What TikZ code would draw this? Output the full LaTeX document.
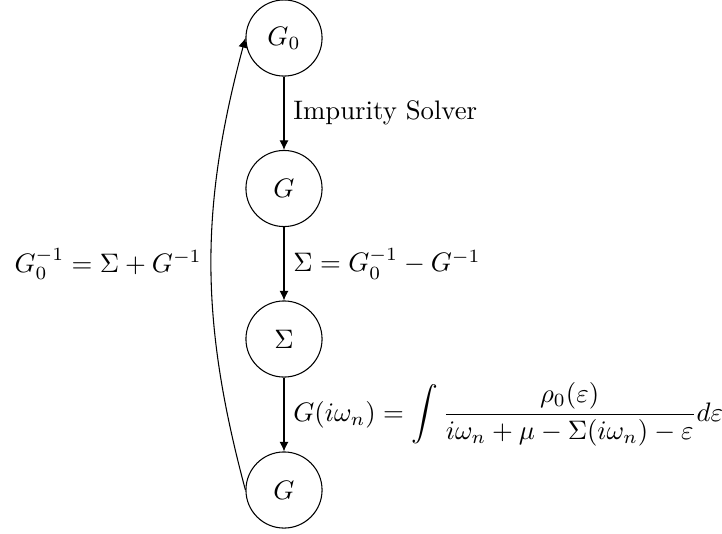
\documentclass[tikz,border=0pt]{standalone}
\usetikzlibrary{arrows.meta}
\begin{document}
\begin{tikzpicture}[x=0.3738pt,y=-0.3738pt,
  state/.style={draw,circle,minimum size=1cm,inner sep=0pt},
  flow/.style={-{Latex[length=3.6pt,width=3.4pt]}}]
\useasboundingbox (0,0) rectangle (722,533);
\node[state] (g0) at (284,38) {$G_0$};
\node[state] (g1) at (284,188.5) {$G$};
\node[state] (s) at (284,339) {$\Sigma$};
\node[state] (g2) at (284,490) {$G$};
\draw[flow] (g0) -- node[right] {Impurity Solver} (g1);
\draw[flow] (g1) -- node[right] {$\Sigma = G_0^{-1} - G^{-1}$} (s);
\draw[flow] (s) -- node[right] {$G(i\omega_n) = \displaystyle\int \frac{\rho_0(\varepsilon)}{i\omega_n+\mu-\Sigma(i\omega_n)-\varepsilon} d\varepsilon$} (g2);
\draw[flow] (g2.west) to[bend left=15] node[left] {$G_0^{-1} = \Sigma + G^{-1}$} (g0.west);
\end{tikzpicture}
\end{document}
